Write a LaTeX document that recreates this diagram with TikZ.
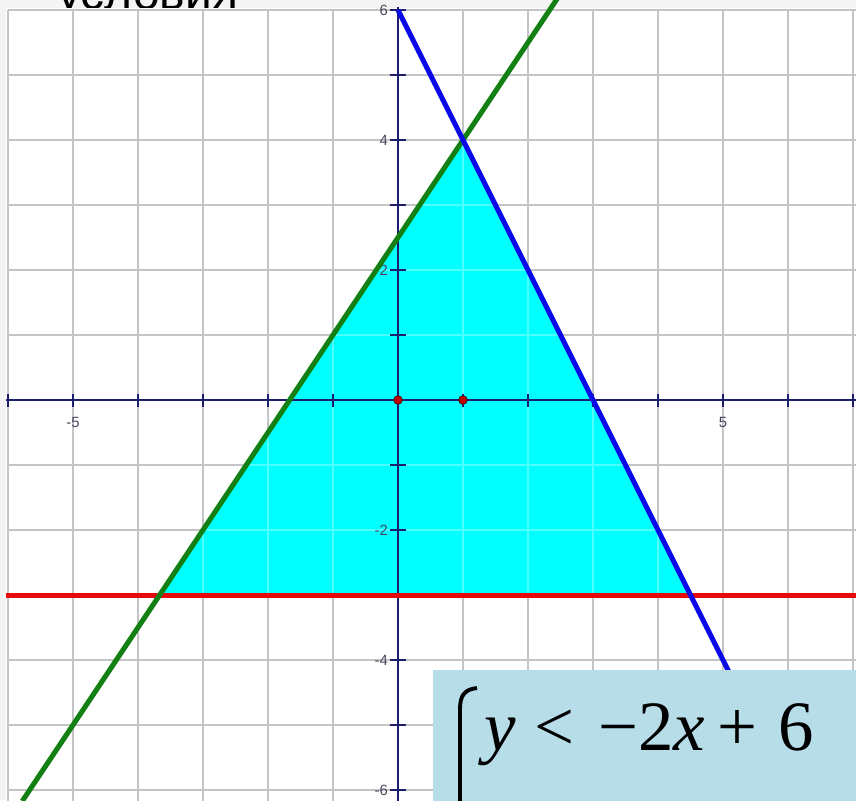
\documentclass[tikz,border=0pt]{standalone}
\usepackage{fontspec}
\setmainfont{Liberation Serif}
\setsansfont{Liberation Sans}
\definecolor{gridgray}{RGB}{196,196,196}
\definecolor{axisnavy}{RGB}{30,30,110}
\definecolor{regioncyan}{RGB}{0,255,255}
\definecolor{linegreen}{RGB}{20,128,20}
\definecolor{lineblue}{RGB}{10,10,230}
\definecolor{linered}{RGB}{230,10,10}
\definecolor{boxblue}{RGB}{183,221,232}
\definecolor{ticklabel}{RGB}{70,70,95}
\definecolor{stripgray}{RGB}{244,244,244}

\begin{document}
\begin{tikzpicture}[every node/.style={font=\sffamily\fontsize{6.5}{7}\selectfont, text=ticklabel, inner sep=0pt},
  graph/.style={line width=2.2pt},
  tick/.style={axisnavy, line width=0.8pt},
  dot/.style={circle, fill=red!75!black, draw=red!35!black, line width=0.4pt, minimum size=0.13cm}]
  \clip (-6.123,-6.154) rectangle (7.046,6.154);
  % page strip and the cut heading above the plot
  \fill[stripgray] (-6.123,-6.154) rectangle (7.046,6.154);
  \node (head) [anchor=base west, font=\sffamily\fontsize{21}{24}\selectfont, text=black] at (-5.25,6.015) {условия};
  % plot panel and grid
  \fill[white] (-6.03,-6.2) rectangle (7.1,6.038);
  \draw[gridgray, line width=0.7pt] (-6,-6.2) grid (7.1,6);
  % solution region
  \fill[regioncyan] (1,4) -- (-3.667,-3) -- (4.5,-3) -- cycle;
  \begin{scope}
    \clip (1,4) -- (-3.667,-3) -- (4.5,-3) -- cycle;
    \draw[white, opacity=0.3, line width=0.7pt] (-6,-6) grid (7,6);
  \end{scope}
  % axes with ticks
  \draw[axisnavy, line width=0.9pt] (-6.03,0) -- (7.1,0);
  \draw[axisnavy, line width=0.9pt] (0,-6.2) -- (0,6.04);
  \foreach \i in {-6,...,7} \draw[tick] (\i,-0.1) -- (\i,0.1);
  \foreach \j in {-6,...,6} \draw[tick] (-0.12,\j) -- (0.12,\j);
  % tick labels
  \node (xm5) at (-5,-0.35) {-5};
  \node (xp5) at (5,-0.35) {5};
  \foreach \j in {-6,-4,-2,2,4,6} \node (y\j) [anchor=east] at (-0.15,\j) {\j};
  % boundary lines
  \draw[graph, linered] (-6.03,-3) -- (7.1,-3);
  \draw[graph, linegreen] (-5.78,-6.17) -- (2.45,6.175);
  \draw[graph, lineblue] (0,6) -- (5.4,-4.8);
  % marked points
  \node (o) [dot] at (0,0) {};
  \node (e) [dot] at (1,0) {};
  % system of inequalities
  \fill[boxblue] (0.538,-4.154) rectangle (7.1,-6.2);
  \draw[line width=1.7pt] (1.215,-4.431) .. controls (1.02,-4.45) and (0.954,-4.55) .. (0.954,-4.75) -- (0.954,-6.2);
  \node (ineq) [anchor=base west, font=\fontsize{31}{36}\selectfont, text=black] at (1.33,-5.385)
    {\textit{y}\hspace{0.26em}<\hspace{0.33em}−2\textit{x}\hspace{0.18em}+\hspace{0.29em}6};
\end{tikzpicture}
\end{document}
